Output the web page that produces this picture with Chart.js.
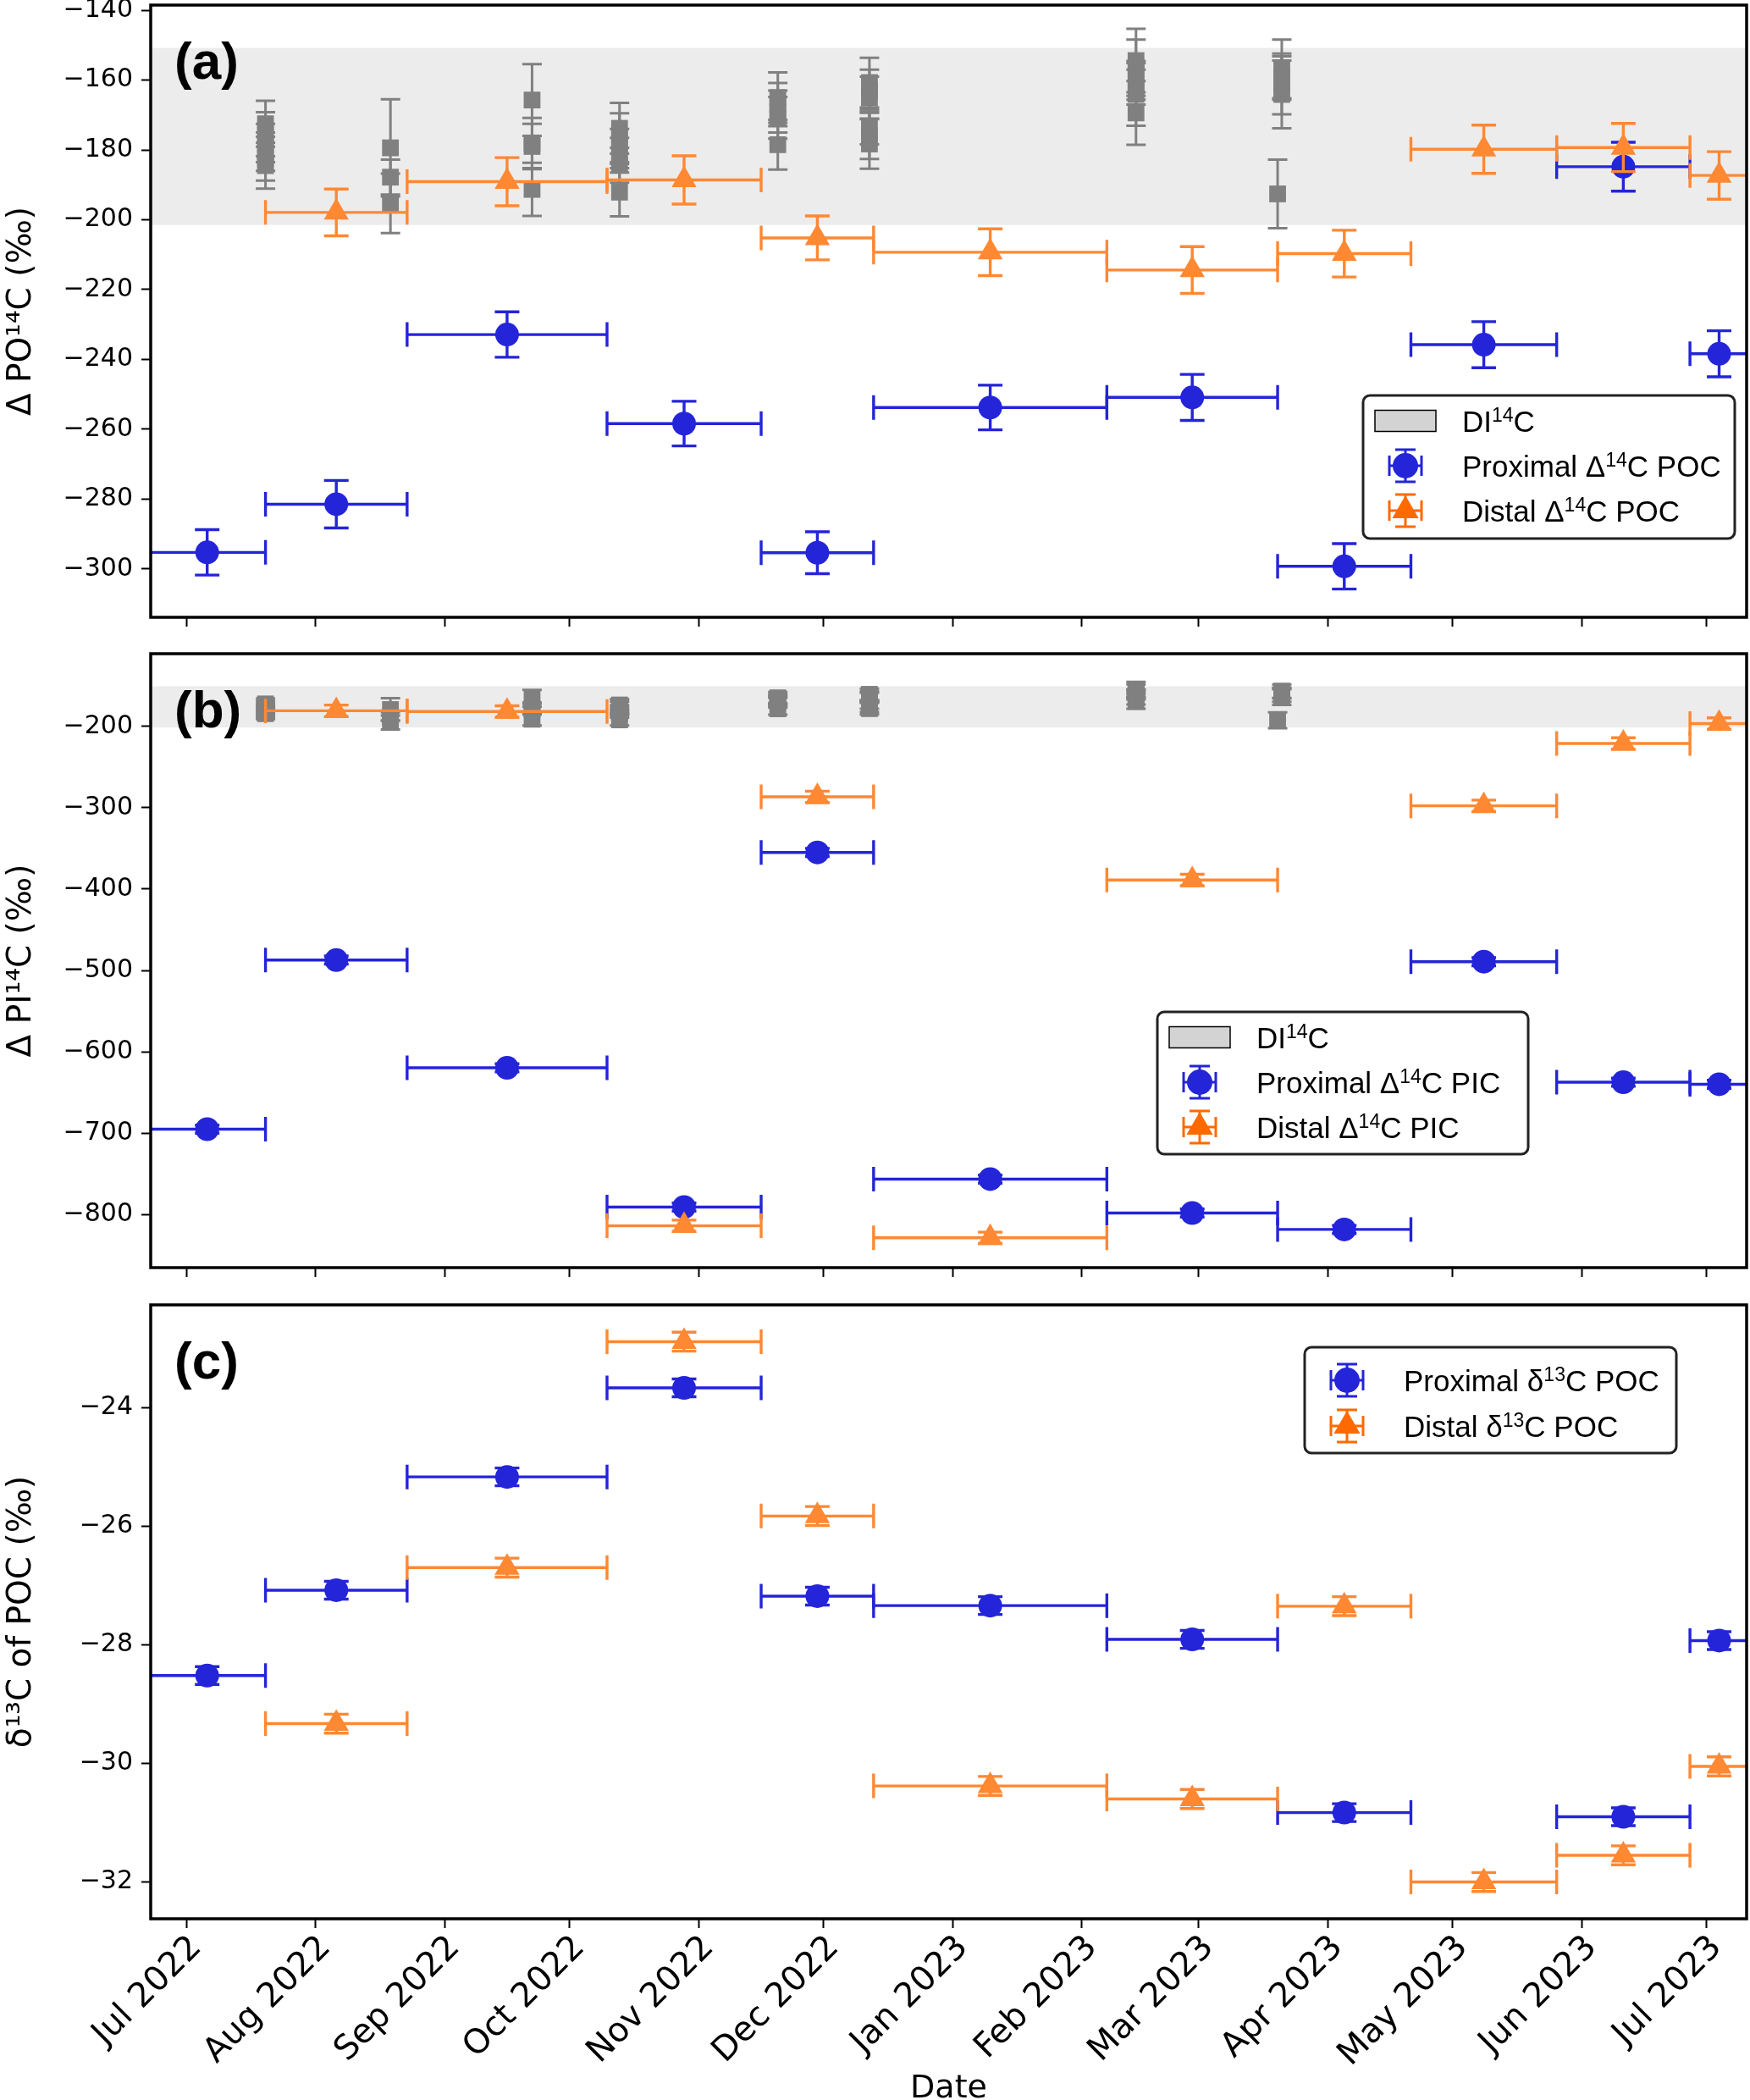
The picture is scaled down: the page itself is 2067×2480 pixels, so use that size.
<!DOCTYPE html>
<html>
<head>
<meta charset="utf-8">
<title>Δ14C of POC / PIC and δ13C of POC</title>
<script src="https://cdn.jsdelivr.net/npm/chart.js@4.4.1/dist/chart.umd.min.js"></script>
<style>
  html, body { margin: 0; padding: 0; background: #fff; }
  #wrap { position: relative; width: 2067px; height: 2480px; overflow: hidden; }
  canvas { position: absolute; left: 0; display: block; }
</style>
</head>
<body>
<div id="wrap">
  <canvas id="panel-a" width="2067" height="760" style="top:0px"></canvas>
  <canvas id="panel-b" width="2067" height="760" style="top:768px"></canvas>
  <canvas id="panel-c" width="2067" height="943" style="top:1537px"></canvas>
</div>
<script>
// --- data -----------------------------------------------------------------

// boundaries of the integrated sampling intervals (11 samples)
const intervalEdges = ['2022-06-22', '2022-07-20', '2022-08-23', '2022-10-10', '2022-11-16',
    '2022-12-13', '2023-02-07', '2023-03-20', '2023-04-21', '2023-05-26', '2023-06-27', '2023-07-11'];

const monthTicks = ['2022-07-01', '2022-08-01', '2022-09-01', '2022-10-01', '2022-11-01', '2022-12-01',
    '2023-01-01', '2023-02-01', '2023-03-01', '2023-04-01', '2023-05-01', '2023-06-01', '2023-07-01'];
const monthLabels = ['Jul 2022', 'Aug 2022', 'Sep 2022', 'Oct 2022', 'Nov 2022', 'Dec 2022',
    'Jan 2023', 'Feb 2023', 'Mar 2023', 'Apr 2023', 'May 2023', 'Jun 2023', 'Jul 2023'];

// (a) Δ14C of POC
const poc14Prox    = [-295.3, -281.5, -232.9, -258.4, -295.4, -253.8, -250.9, -299.3, -235.8, -184.8, -238.4];
const poc14ProxErr = [6.5, 6.8, 6.5, 6.4, 6.0, 6.4, 6.6, 6.5, 6.6, 7.0, 6.6];
const poc14Dist    = [null, -197.9, -189.1, -188.6, -205.2, -209.3, -214.4, -209.7, -179.8, -179.3, -187.3];
const poc14DistErr = [null, 6.7, 6.9, 6.9, 6.3, 6.7, 6.7, 6.7, 6.9, 6.9, 6.8];

// (b) Δ14C of PIC
const pic14Prox    = [-695.0, -487.2, -619.6, -790.7, -355.0, -756.3, -798.0, -818.2, -489.2, -637.3, -639.8];
const pic14ProxErr = [5, 5, 5, 5, 5, 5, 5, 5, 5, 5, 5];
const pic14Dist    = [null, -180.9, -181.8, -813.7, -286.7, -828.5, -388.9, null, -297.7, -221.1, -196.6];
const pic14DistErr = [null, 7, 7, 7, 7, 7, 7, null, 7, 7, 7];

// (c) δ13C of POC
const d13Prox    = [-28.52, -27.08, -25.17, -23.67, -27.18, -27.34, -27.91, -30.83, null, -30.90, -27.93];
const d13ProxErr = [0.15, 0.15, 0.15, 0.15, 0.15, 0.15, 0.15, 0.15, null, 0.15, 0.15];
const d13Dist    = [null, -29.33, -26.70, -22.89, -25.83, -30.38, -30.60, -27.35, -32.00, -31.55, -30.05];
const d13DistErr = [null, 0.16, 0.16, 0.16, 0.16, 0.16, 0.16, 0.16, 0.16, 0.16, 0.16];

// DI14C discrete samples (grey squares), grouped by sampling date
const dicDates  = ['2022-07-20', '2022-08-19', '2022-09-22', '2022-10-13', '2022-11-20',
    '2022-12-12', '2023-02-14', '2023-03-21', '2023-03-20'];
const dicValues = [
    [-172.5, -175.5, -178.0, -180.5, -182.5, -184.5],
    [-179.4, -187.8, -195.3],
    [-165.7, -178.0, -179.0, -191.3],
    [-173.8, -176.5, -179.0, -181.5, -184.4, -192.1],
    [-165.0, -167.0, -169.0, -170.8, -178.5],
    [-160.7, -163.0, -165.0, -173.4, -176.0, -178.3],
    [-154.4, -157.0, -159.5, -162.0, -164.1, -169.4],
    [-156.8, -159.0, -161.5, -164.1],
    [-192.6]
];
const dicErrors = [
    [6.6, 6.3, 5.5, 5.5, 6.3, 6.6],
    [13.9, 5.0, 8.5],
    [10.3, 7.2, 6.5, 7.6],
    [7.3, 7.0, 5.0, 5.0, 5.0, 6.9],
    [7.2, 6.2, 6.0, 6.0, 7.1],
    [7.1, 6.0, 6.0, 5.0, 6.6, 7.1],
    [9.1, 8.6, 5.0, 5.0, 9.0, 9.1],
    [8.4, 6.6, 8.3, 9.7],
    [9.8]
];
// DI14C range (shaded band)
const dicBand = [-201.5, -150.8];

// y-axis ticks and ranges
const yTicksA = [-300, -280, -260, -240, -220, -200, -180, -160, -140];
const yTicksB = [-800, -700, -600, -500, -400, -300, -200];
const yTicksC = [-32, -30, -28, -26, -24];
const yRangeA = [-313.9, -138.5];
const yRangeB = [-865.1, -110.8];
const yRangeC = [-32.62, -22.27];
const xRange  = ['2022-06-22', '2023-07-11'];

// --- helpers ---------------------------------------------------------------

const BLUE = '#2424d9';
const ORANGE = '#ff8833';
const ORANGE_LEGEND = '#ff6a00';
const GREY = '#808080';
const LEGEND_FONT = '"Liberation Sans", Arial, sans-serif';
const DAY0 = Date.parse('2022-07-01');
const toDay = (s) => (Date.parse(s) - DAY0) / 86400000;

function intervalSeries(values, errs) {
    const pts = [];
    values.forEach((v, i) => {
        if (v === null) return;
        const a = toDay(intervalEdges[i]);
        const b = toDay(intervalEdges[i + 1]);
        pts.push({ x: (a + b) / 2, y: v, xErr: (b - a) / 2, yErr: errs[i] });
    });
    return pts;
}

function dicSeries() {
    const pts = [];
    dicDates.forEach((d, g) => {
        dicValues[g].forEach((v, k) => pts.push({ x: toDay(d), y: v, yErr: dicErrors[g][k] }));
    });
    return pts;
}

const minus = (v) => (v < 0 ? '\u2212' + Math.abs(v) : String(v));

// error bars drawn just before each dataset's own markers
const errorBars = {
    id: 'errorBars',
    beforeDatasetDraw(chart, args) {
        const ds = chart.data.datasets[args.index];
        const eb = ds.errorBar;
        if (!eb) return;
        const { ctx, chartArea: ca } = chart;
        const xs = chart.scales.x, ys = chart.scales.y;
        ctx.save();
        ctx.beginPath();
        ctx.rect(ca.left, ca.top, ca.width, ca.height);
        ctx.clip();
        ctx.strokeStyle = ds.backgroundColor;
        ctx.lineWidth = eb.width;
        ctx.lineCap = 'butt';
        ds.data.forEach((p) => {
            const px = xs.getPixelForValue(p.x);
            const py = ys.getPixelForValue(p.y);
            ctx.beginPath();
            if (p.xErr) {
                const l = xs.getPixelForValue(p.x - p.xErr);
                const r = xs.getPixelForValue(p.x + p.xErr);
                ctx.moveTo(l, py); ctx.lineTo(r, py);
                ctx.moveTo(l, py - eb.cap); ctx.lineTo(l, py + eb.cap);
                ctx.moveTo(r, py - eb.cap); ctx.lineTo(r, py + eb.cap);
            }
            if (p.yErr) {
                const t = ys.getPixelForValue(p.y + p.yErr);
                const b = ys.getPixelForValue(p.y - p.yErr);
                ctx.moveTo(px, t); ctx.lineTo(px, b);
                ctx.moveTo(px - eb.cap, t); ctx.lineTo(px + eb.cap, t);
                ctx.moveTo(px - eb.cap, b); ctx.lineTo(px + eb.cap, b);
            }
            ctx.stroke();
        });
        ctx.restore();
    }
};

function drawMarker(ctx, style, x, y, r, color) {
    ctx.fillStyle = color;
    ctx.beginPath();
    if (style === 'circle') {
        ctx.arc(x, y, r, 0, Math.PI * 2);
    } else if (style === 'triangle') {
        ctx.moveTo(x, y - r);
        ctx.lineTo(x + Math.sin(2 * Math.PI / 3) * r, y + 0.5 * r);
        ctx.lineTo(x - Math.sin(2 * Math.PI / 3) * r, y + 0.5 * r);
        ctx.closePath();
    }
    ctx.fill();
}

function drawRichText(ctx, parts, x, y) {
    let cx = x;
    parts.forEach(([txt, sup]) => {
        ctx.font = (sup ? '23px ' : '35px ') + LEGEND_FONT;
        ctx.fillText(txt, cx, sup ? y - 12 : y);
        cx += ctx.measureText(txt).width;
    });
}

function drawLegend(ctx, ca, lg) {
    const x0 = ca.left + lg.x, y0 = ca.top + lg.y;
    ctx.save();
    ctx.beginPath();
    ctx.roundRect(x0, y0, lg.w, lg.h, 8);
    ctx.fillStyle = '#fff';
    ctx.fill();
    ctx.lineWidth = 3;
    ctx.strokeStyle = '#222';
    ctx.stroke();
    lg.rows.forEach((row, i) => {
        const cy = y0 + lg.rowY[i];
        const cx = x0 + 50;
        if (row.kind === 'band') {
            ctx.fillStyle = '#d3d3d3';
            ctx.fillRect(cx - 36, cy - 12.5, 72, 25);
            ctx.lineWidth = 1.5;
            ctx.strokeStyle = '#000';
            ctx.strokeRect(cx - 36, cy - 12.5, 72, 25);
        } else {
            const h = 19, c = 12;
            ctx.strokeStyle = row.color;
            ctx.lineWidth = 3;
            ctx.beginPath();
            ctx.moveTo(cx - h, cy); ctx.lineTo(cx + h, cy);
            ctx.moveTo(cx - h, cy - c); ctx.lineTo(cx - h, cy + c);
            ctx.moveTo(cx + h, cy - c); ctx.lineTo(cx + h, cy + c);
            ctx.moveTo(cx, cy - h); ctx.lineTo(cx, cy + h);
            ctx.moveTo(cx - c, cy - h); ctx.lineTo(cx + c, cy - h);
            ctx.moveTo(cx - c, cy + h); ctx.lineTo(cx + c, cy + h);
            ctx.stroke();
            drawMarker(ctx, row.marker, cx, cy, row.marker === 'circle' ? 15 : 18, row.color);
        }
        ctx.fillStyle = '#000';
        ctx.textBaseline = 'alphabetic';
        ctx.textAlign = 'left';
        drawRichText(ctx, row.parts, x0 + 117, cy + 13);
    });
    ctx.restore();
}

// band, frame, panel letter and legend
const panelDecor = {
    id: 'panelDecor',
    beforeDatasetsDraw(chart, args, opts) {
        if (!opts.band) return;
        const { ctx, chartArea: ca } = chart;
        const ys = chart.scales.y;
        const t = ys.getPixelForValue(opts.band[1]);
        const b = ys.getPixelForValue(opts.band[0]);
        ctx.save();
        ctx.fillStyle = '#ececec';
        ctx.fillRect(ca.left, t, ca.width, b - t);
        ctx.restore();
    },
    afterDraw(chart, args, opts) {
        const { ctx, chartArea: ca } = chart;
        ctx.save();
        ctx.lineWidth = 3.5;
        ctx.strokeStyle = '#000';
        ctx.strokeRect(ca.left, ca.top, ca.width, ca.height);
        ctx.fillStyle = '#000';
        ctx.font = 'bold 62px ' + LEGEND_FONT;
        ctx.textAlign = 'left';
        ctx.textBaseline = 'alphabetic';
        ctx.fillText(opts.label, ca.left + 28, ca.top + 87);
        ctx.restore();
        if (opts.legend) drawLegend(ctx, ca, opts.legend);
    }
};

function xScale(showLabels, height) {
    return {
        type: 'linear',
        min: toDay(xRange[0]) + 0.44,
        max: toDay(xRange[1]) - 0.4,
        afterBuildTicks: (s) => { s.ticks = monthTicks.map((d) => ({ value: toDay(d) })); },
        afterFit: (s) => {
            s.height = height;
            s.paddingLeft = 0;
            s.paddingRight = 0;
        },
        border: { display: false },
        grid: { drawOnChartArea: false, drawTicks: true, tickLength: 11, tickWidth: 2, tickColor: '#000' },
        ticks: {
            display: showLabels,
            autoSkip: false,
            minRotation: 45,
            maxRotation: 45,
            padding: 0,
            labelOffset: 12,
            color: '#000',
            font: { family: 'DejaVu Sans', size: 40 },
            callback: (v, i) => monthLabels[i]
        },
        title: {
            display: showLabels,
            text: 'Date',
            color: '#000',
            font: { family: 'DejaVu Sans', size: 38, lineHeight: 1 },
            padding: { top: 0, bottom: -6 }
        }
    };
}

function yScale(range, ticks, title) {
    return {
        type: 'linear',
        min: range[0],
        max: range[1],
        afterBuildTicks: (s) => { s.ticks = ticks.map((v) => ({ value: v })); },
        afterFit: (s) => {
            s.width = 178;
            s.paddingTop = 0;
            s.paddingBottom = 0;
        },
        border: { display: false },
        grid: { drawOnChartArea: false, drawTicks: true, tickLength: 11, tickWidth: 2, tickColor: '#000' },
        ticks: {
            padding: 10,
            color: '#000',
            font: { family: 'DejaVu Sans', size: 30 },
            callback: (v) => minus(v)
        },
        title: {
            display: true,
            text: title,
            color: '#000',
            font: { family: 'DejaVu Sans', size: 39, lineHeight: 1.2 },
            padding: { top: 2, bottom: 0 }
        }
    };
}

function pointSet(label, data, color, style, radius, order, errW, cap) {
    return {
        type: 'scatter',
        label: label,
        data: data,
        backgroundColor: color,
        borderWidth: 0,
        pointStyle: style,
        pointRadius: radius,
        pointHoverRadius: radius,
        order: order,
        clip: false,
        errorBar: { width: errW, cap: cap }
    };
}

function makePanel(id, cfg) {
    return new Chart(document.getElementById(id), {
        type: 'scatter',
        data: { datasets: cfg.datasets },
        options: {
            responsive: false,
            devicePixelRatio: 1,
            animation: false,
            events: [],
            layout: { autoPadding: false, padding: { top: cfg.padTop, right: 4, left: 0, bottom: 0 } },
            scales: { x: xScale(cfg.showX, cfg.xHeight), y: yScale(cfg.yRange, cfg.yTicks, cfg.yTitle) },
            plugins: {
                legend: { display: false },
                tooltip: { enabled: false },
                panelDecor: { label: cfg.label, band: cfg.band, legend: cfg.legend }
            }
        },
        plugins: [errorBars, panelDecor]
    });
}

// --- panels ----------------------------------------------------------------

makePanel('panel-a', {
    label: '(a)',
    padTop: 6,
    showX: false,
    xHeight: 31,
    yRange: yRangeA,
    yTicks: yTicksA,
    yTitle: 'Δ PO¹⁴C (‰)',
    band: dicBand,
    datasets: [
        pointSet('DI14C', dicSeries(), GREY, 'rect', 14, 3, 3, 11.5),
        pointSet('Proximal Δ14C POC', intervalSeries(poc14Prox, poc14ProxErr), BLUE, 'circle', 14, 2, 3.4, 14.5),
        pointSet('Distal Δ14C POC', intervalSeries(poc14Dist, poc14DistErr), ORANGE, 'triangle', 17, 1, 3.4, 14.5)
    ],
    legend: {
        x: 1432, y: 461, w: 439, h: 169,
        rowY: [30, 83, 136],
        rows: [
            { kind: 'band', parts: [['DI', false], ['14', true], ['C', false]] },
            { kind: 'err', marker: 'circle', color: BLUE, parts: [['Proximal Δ', false], ['14', true], ['C POC', false]] },
            { kind: 'err', marker: 'triangle', color: ORANGE_LEGEND, parts: [['Distal Δ', false], ['14', true], ['C POC', false]] }
        ]
    }
});

makePanel('panel-b', {
    label: '(b)',
    padTop: 4,
    showX: false,
    xHeight: 31,
    yRange: yRangeB,
    yTicks: yTicksB,
    yTitle: 'Δ PI¹⁴C (‰)',
    band: dicBand,
    datasets: [
        pointSet('DI14C', dicSeries(), GREY, 'rect', 14, 3, 3, 11.5),
        pointSet('Proximal Δ14C PIC', intervalSeries(pic14Prox, pic14ProxErr), BLUE, 'circle', 14, 2, 3.4, 14.5),
        pointSet('Distal Δ14C PIC', intervalSeries(pic14Dist, pic14DistErr), ORANGE, 'triangle', 17, 1, 3.4, 14.5)
    ],
    legend: {
        x: 1189, y: 423, w: 438, h: 168,
        rowY: [30, 83, 136],
        rows: [
            { kind: 'band', parts: [['DI', false], ['14', true], ['C', false]] },
            { kind: 'err', marker: 'circle', color: BLUE, parts: [['Proximal Δ', false], ['14', true], ['C PIC', false]] },
            { kind: 'err', marker: 'triangle', color: ORANGE_LEGEND, parts: [['Distal Δ', false], ['14', true], ['C PIC', false]] }
        ]
    }
});

makePanel('panel-c', {
    label: '(c)',
    padTop: 4,
    showX: true,
    xHeight: 214,
    yRange: yRangeC,
    yTicks: yTicksC,
    yTitle: 'δ¹³C of POC (‰)',
    band: null,
    datasets: [
        pointSet('Proximal δ13C POC', intervalSeries(d13Prox, d13ProxErr), BLUE, 'circle', 14, 2, 3.4, 14.5),
        pointSet('Distal δ13C POC', intervalSeries(d13Dist, d13DistErr), ORANGE, 'triangle', 17, 1, 3.4, 14.5)
    ],
    legend: {
        x: 1363, y: 50, w: 439, h: 125,
        rowY: [39, 93],
        rows: [
            { kind: 'err', marker: 'circle', color: BLUE, parts: [['Proximal δ', false], ['13', true], ['C POC', false]] },
            { kind: 'err', marker: 'triangle', color: ORANGE_LEGEND, parts: [['Distal δ', false], ['13', true], ['C POC', false]] }
        ]
    }
});
</script>
</body>
</html>
